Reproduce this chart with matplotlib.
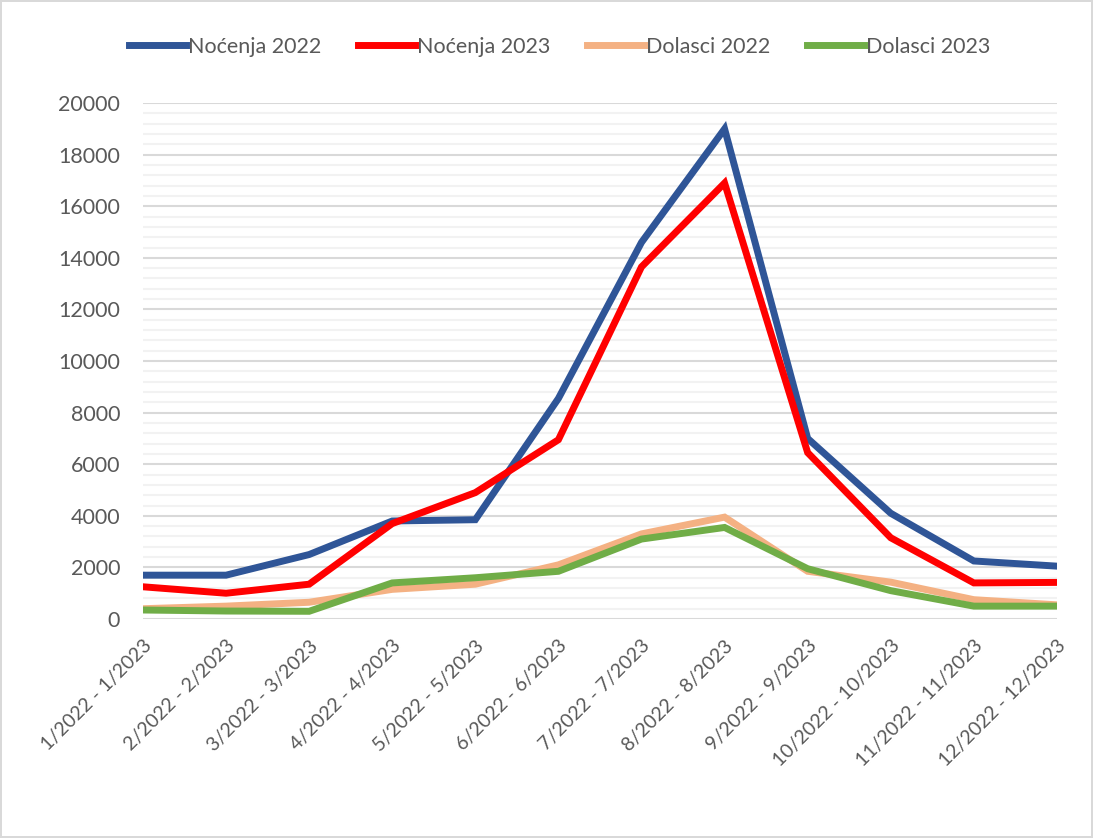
import numpy as np
import matplotlib.pyplot as plt
from matplotlib.ticker import MultipleLocator

# Podaci po mjesecima
periodi = ['1/2022 - 1/2023', '2/2022 - 2/2023', '3/2022 - 3/2023', '4/2022 - 4/2023',
           '5/2022 - 5/2023', '6/2022 - 6/2023', '7/2022 - 7/2023', '8/2022 - 8/2023',
           '9/2022 - 9/2023', '10/2022 - 10/2023', '11/2022 - 11/2023', '12/2022 - 12/2023']
nocenja_2022 = [1700, 1700, 2500, 3800, 3850, 8550, 14600, 19000, 7000, 4100, 2250, 2050]
nocenja_2023 = [1250, 1000, 1350, 3700, 4900, 6950, 13650, 16900, 6450, 3150, 1400, 1420]
dolasci_2022 = [400, 500, 650, 1150, 1350, 2100, 3300, 3950, 1850, 1430, 750, 550]
dolasci_2023 = [350, 310, 300, 1400, 1600, 1850, 3100, 3550, 1950, 1100, 500, 500]

plt.rcParams['font.family'] = ['Lato', 'DejaVu Sans']
TXT = '#595959'

fig = plt.figure(figsize=(10.93, 8.38), dpi=100)
fig.patch.set_edgecolor('#D9D9D9')
fig.patch.set_linewidth(1.5)
ax = fig.add_axes([0.1308, 0.2613, 0.967 - 0.1308, 0.877 - 0.2613])

x = np.arange(len(periodi))
serije = [
    (nocenja_2022, 'Noćenja 2022', '#2F5597'),
    (nocenja_2023, 'Noćenja 2023', '#FF0000'),
    (dolasci_2022, 'Dolasci 2022', '#F4B183'),
    (dolasci_2023, 'Dolasci 2023', '#70AD47'),
]
for vals, lab, col in serije:
    ax.plot(x, vals, color=col, linewidth=5, label=lab, solid_joinstyle='miter', zorder=3)

ax.set_xlim(0, len(periodi) - 1)
ax.set_ylim(0, 20000)
ax.yaxis.set_major_locator(MultipleLocator(2000))
ax.yaxis.set_minor_locator(MultipleLocator(400))
ax.grid(which='major', axis='y', color='#D9D9D9', linewidth=1.5)
ax.grid(which='minor', axis='y', color='#F2F2F2', linewidth=1.5)
ax.set_axisbelow(True)
for s in ax.spines.values():
    s.set_visible(False)
ax.tick_params(which='both', length=0, colors=TXT)
ax.tick_params(axis='y', pad=16.5, labelsize=15.5)
ax.set_xticks(x)
ax.set_xticklabels(periodi, rotation=45, ha='right', rotation_mode='anchor')
ax.tick_params(axis='x', pad=13, labelsize=14)

fig.legend(loc='center', bbox_to_anchor=(0.512, 0.944), ncol=4, frameon=False,
           fontsize=15.5, labelcolor=TXT, handlelength=2.65, handletextpad=0.1,
           columnspacing=1.7)

plt.savefig('out.png', dpi=100)
